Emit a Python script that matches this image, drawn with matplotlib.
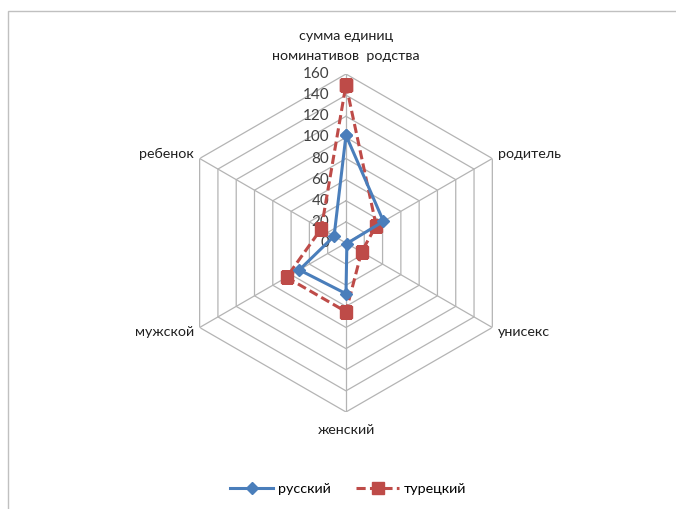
import numpy as np
import matplotlib
matplotlib.use("Agg")
import matplotlib.pyplot as plt
from matplotlib.patches import Rectangle

# axes clockwise from the top
categories = ["сумма единиц\nноминативов  родства", "родитель", "унисекс",
              "женский", "мужской", "ребенок"]
russian = [102, 41, 1, 48, 51, 13]
turkish = [150, 33, 17, 65, 65, 27]
ring_values = [0, 20, 40, 60, 80, 100, 120, 140, 160]

plt.rcParams["font.family"] = ["Lato", "DejaVu Sans"]

fig = plt.figure(figsize=(6.76, 5.09), dpi=100)
# chart area border (cut off on the right and bottom like the screenshot)
fig.patches.append(Rectangle((8 / 676, -0.1), 1.2, 1 - 11 / 509 + 0.1,
                             transform=fig.transFigure, fill=False,
                             edgecolor="#c0c0c0", linewidth=1.0))

ax = fig.add_axes([0.2618, 0.1906, 0.5, 0.664], projection="polar")
ax.set_theta_zero_location("N")
ax.set_theta_direction(-1)
ax.set_ylim(0, 160)
ax.axis("off")

angles = np.deg2rad(np.arange(len(categories)) * 60.0)
closed = np.append(angles, angles[0])

grid_col = "#b4b4b4"
for v in ring_values[1:]:
    ax.plot(closed, [v] * len(closed), color=grid_col, lw=0.9, zorder=1)
for a in angles:
    ax.plot([a, a], [0, ring_values[-1]], color=grid_col, lw=0.9, zorder=1)

# radial tick labels left of the top spoke
for v in ring_values:
    ax.annotate(str(v), (0, v), xytext=(-12, 0), textcoords="offset points",
                ha="right", va="center", fontsize=11, color="#404040", zorder=2)

# category labels
offsets = [(0, 9), (4, 3), (4, -3), (0, -9), (-4, -3), (-4, 3)]
aligns = [("center", "bottom"), ("left", "center"), ("left", "center"),
          ("center", "top"), ("right", "center"), ("right", "center")]
for a, lab, off, (ha, va) in zip(angles, categories, offsets, aligns):
    ax.annotate(lab, (a, ring_values[-1]), xytext=off, textcoords="offset points",
                ha=ha, va=va, fontsize=10.3, color="#202020",
                linespacing=1.8, annotation_clip=False)

ax.plot(closed, russian + russian[:1], color="#4a7ebb", lw=2.2, marker="D",
        markersize=6.5, label="русский", zorder=4)
ax.plot(closed, turkish + turkish[:1], color="#be4b48", lw=2.2, ls=(0, (3, 1.4)),
        marker="s", markersize=8.5, label="турецкий", zorder=3)

fig.legend(loc="center", bbox_to_anchor=(348 / 676, 1 - 489 / 509), ncol=2,
           frameon=False, fontsize=10.3, handlelength=3.0, columnspacing=1.8,
           handletextpad=0.3)

fig.savefig("out.png", dpi=100, facecolor="white")
